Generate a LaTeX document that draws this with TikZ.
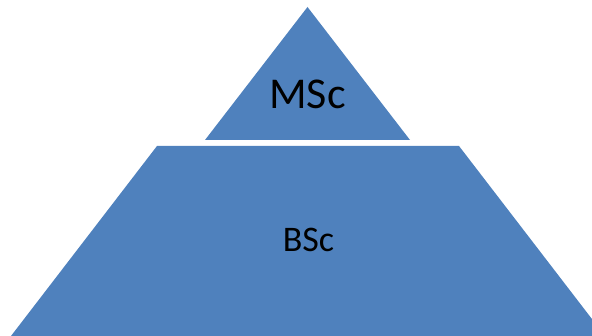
\documentclass[tikz,border=0pt]{standalone}
\usepackage{fontspec}
\setmainfont{Carlito}
\definecolor{pyr}{HTML}{4F81BD}
\begin{document}
\begin{tikzpicture}[x=1pt,y=1pt,
  layer/.style={fill=pyr,draw=none},
  lbl/.style={anchor=base,inner sep=0pt,text=black}]
\useasboundingbox (0,0) rectangle (592,336);
\clip (0,0) rectangle (592,336);
\fill[layer] (11,0) -- (157,190) -- (459,190) -- (605,0) -- cycle;
\fill[layer] (205,196) -- (307.5,329) -- (410,196) -- cycle;
\node[lbl,font=\fontsize{44}{44}\selectfont] (msc) at (307.5,227) {MSc};
\node[lbl,font=\fontsize{36}{36}\selectfont] (bsc) at (308.5,84) {BSc};
\end{tikzpicture}
\end{document}
